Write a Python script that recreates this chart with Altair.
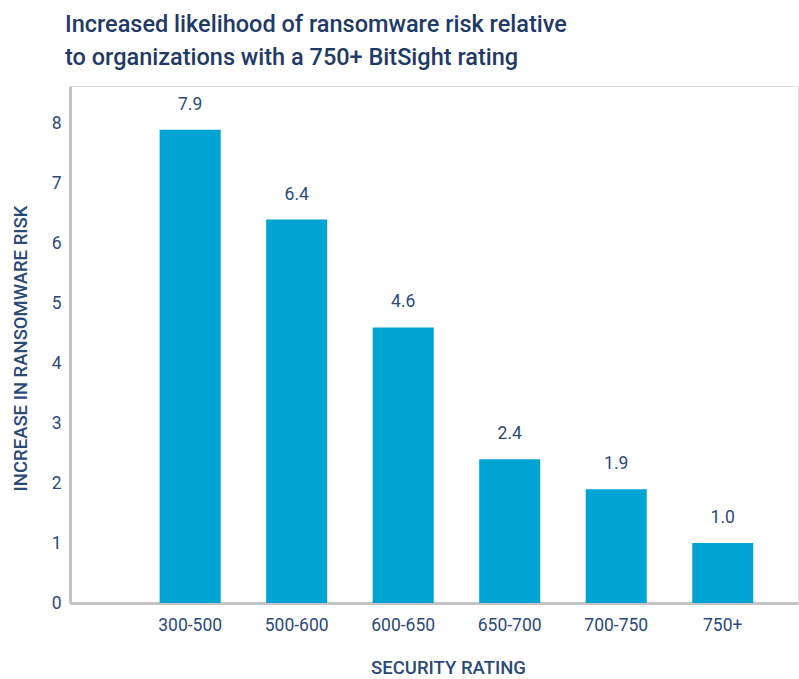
import altair as alt
import pandas as pd

# Security rating bands and the relative ransomware risk for each
ratings = ["300-500", "500-600", "600-650", "650-700", "700-750", "750+"]
risk = [7.9, 6.4, 4.6, 2.4, 1.9, 1.0]
risk_labels = ["7.9", "6.4", "4.6", "2.4", "1.9", "1.0"]

df = pd.DataFrame({"rating": ratings, "risk": risk, "label": risk_labels})

BAR = "#00a4d3"
NAVY = "#1f3a66"
TEXT = "#2c4a78"
AXIS = "#c4c4c4"
FONT = "Roboto"

x = alt.X(
    "rating:N",
    sort=ratings,
    scale=alt.Scale(paddingInner=0.427, paddingOuter=0.631, align=0.667),
    axis=alt.Axis(
        title="SECURITY RATING",
        labelAngle=0,
        labelFont=FONT,
        labelFontSize=17.5,
        labelColor=TEXT,
        labelPadding=13,
        ticks=False,
        tickSize=0,
        domainColor=AXIS,
        domainWidth=3,
        titleFont=FONT,
        titleFontSize=18.5,
        titleFontWeight=500,
        titleColor=TEXT,
        titleX=378,
        titleY=70,
        titleBaseline="alphabetic",
    ),
)

y = alt.Y(
    "risk:Q",
    scale=alt.Scale(domain=[0, 8.63], nice=False),
    axis=alt.Axis(
        title="INCREASE IN RANSOMWARE RISK",
        values=[0, 1, 2, 3, 4, 5, 6, 7, 8],
        format="d",
        grid=False,
        ticks=False,
        tickSize=0,
        labelFont=FONT,
        labelFontSize=17.5,
        labelColor=TEXT,
        labelPadding=9,
        domainColor=AXIS,
        domainWidth=3,
        titleFont=FONT,
        titleFontSize=18.5,
        titleFontWeight=500,
        titleColor=TEXT,
        titleAngle=270,
        titleX=-44,
        titleY=262,
        titleBaseline="alphabetic",
    ),
)

bars = alt.Chart(df).mark_bar(color=BAR).encode(x=x, y=y)

values = alt.Chart(df).mark_text(
    font=FONT, fontSize=17.5, color=TEXT, baseline="alphabetic", dy=-20
).encode(x=alt.X("rating:N", sort=ratings), y="risk:Q", text="label:N")

chart = (
    alt.layer(bars, values)
    .properties(
        width=728,
        height=517,
        autosize=alt.AutoSizeParams(type="none"),
        padding={"left": 70, "top": 86, "right": 1, "bottom": 76},
        title=alt.TitleParams(
            text=[
                "Increased likelihood of ransomware risk relative",
                "to organizations with a 750+ BitSight rating",
            ],
            anchor="start",
            frame="group",
            font=FONT,
            fontSize=23.5,
            fontWeight=500,
            color=NAVY,
            lineHeight=33,
            dx=-5,
            offset=17,
        ),
    )
    .configure_view(stroke=None)
    .configure(background="white")
)

chart.save("out.html", embed_options={"renderer": "svg", "actions": False})
